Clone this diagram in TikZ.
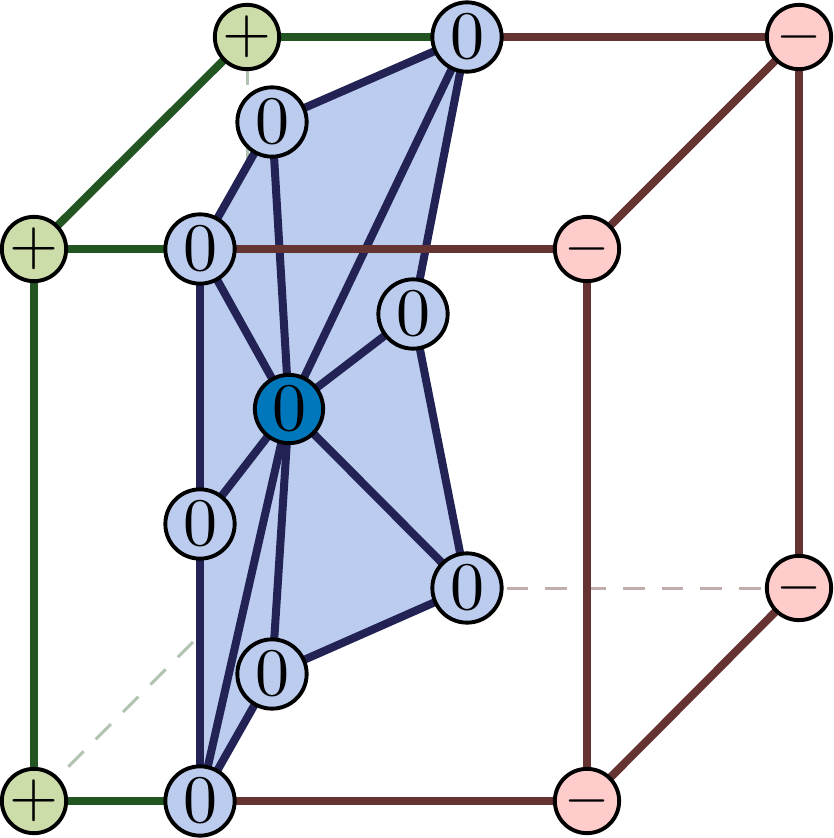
\documentclass[tikz,border=0pt]{standalone}
\usetikzlibrary{backgrounds}
\definecolor{posfill}{HTML}{CCDDAA}
\definecolor{negfill}{HTML}{FFCCCC}
\definecolor{zerofill}{HTML}{BBCCEE}
\definecolor{hubfill}{HTML}{0077BB}
\definecolor{posline}{HTML}{225522}
\definecolor{negline}{HTML}{663333}
\definecolor{zeroline}{HTML}{222255}
\tikzset{
  vertex/.style={circle,draw=black,line width=3.9pt,inner sep=0pt,outer sep=0pt},
  posv/.style={vertex,fill=posfill,minimum size=64.3pt},
  negv/.style={vertex,fill=negfill,minimum size=64.3pt},
  zerov/.style={vertex,fill=zerofill,minimum size=69.3pt},
  hubv/.style={vertex,fill=hubfill,minimum size=68.3pt},
  posedge/.style={draw=posline,line width=8pt},
  negedge/.style={draw=negline,line width=8pt},
  zeroedge/.style={draw=zeroline,line width=8pt},
  hiddenedge/.style={line width=3pt,dash pattern=on 21.7pt off 17pt},
  poshidden/.style={hiddenedge,draw=posline!35},
  neghidden/.style={hiddenedge,draw=negline!40},
}
\newcommand{\zerolabel}{\scalebox{6.8}{$0$}}
\newcommand{\pluslabel}{\scalebox{6.3}{$+$}}
\newcommand{\minuslabel}{\scalebox{5.8}{$-$}}
\begin{document}
\begin{tikzpicture}[x=1pt,y=-1pt]
\useasboundingbox (0,0) rectangle (833,838);
% cube corners on the positive side
\node[posv] (pa) at (247,37) {\pluslabel};
\node[posv] (pb) at (34,249) {\pluslabel};
\node[posv] (pc) at (34,801) {\pluslabel};
% cube corners on the negative side
\node[negv] (na) at (799,37) {\minuslabel};
\node[negv] (nb) at (587,249) {\minuslabel};
\node[negv] (nc) at (799,588) {\minuslabel};
\node[negv] (nd) at (587,801) {\minuslabel};
% vertices of the zero level set
\node[zerov] (za) at (467,37) {\zerolabel};
\node[zerov] (zb) at (272,122) {\zerolabel};
\node[zerov] (zc) at (200,249) {\zerolabel};
\node[zerov] (zd) at (413,314) {\zerolabel};
\node[zerov] (ze) at (200,524) {\zerolabel};
\node[zerov] (zf) at (467,588) {\zerolabel};
\node[zerov] (zg) at (272,674) {\zerolabel};
\node[zerov] (zh) at (200,801) {\zerolabel};
\node[hubv] (hub) at (289,409) {\zerolabel};
\coordinate (back) at (247,588);
\begin{scope}[on background layer]
  % hidden cube edges, each dashed from the centre of its first corner
  \path[poshidden,dash phase=12.4pt] (pa.center) -- (back);
  \path[poshidden,dash phase=28.9pt] (pc.center) -- (back);
  \path[neghidden,dash phase=11.2pt] (back) -- (nc.center);
  % the zero polygon and its triangulation
  \fill[zerofill] (za.center) -- (zb.center) -- (zc.center) -- (zh.center) -- (zg.center) -- (zf.center) -- (zd.center) -- cycle;
  \foreach \a/\b in {za/zb,zb/zc,zc/ze,ze/zh,zh/zg,zg/zf,zf/zd,zd/za,
                     hub/za,hub/zb,hub/zc,hub/zd,hub/ze,hub/zf,hub/zg,hub/zh}
    \path[zeroedge] (\a) -- (\b);
  % visible cube edges
  \foreach \a/\b in {pa/za,pa/pb,pb/zc,pb/pc,pc/zh}
    \path[posedge] (\a) -- (\b);
  \foreach \a/\b in {za/na,na/nb,na/nc,zc/nb,nb/nd,nc/nd,zh/nd}
    \path[negedge] (\a) -- (\b);
\end{scope}
\end{tikzpicture}
\end{document}
